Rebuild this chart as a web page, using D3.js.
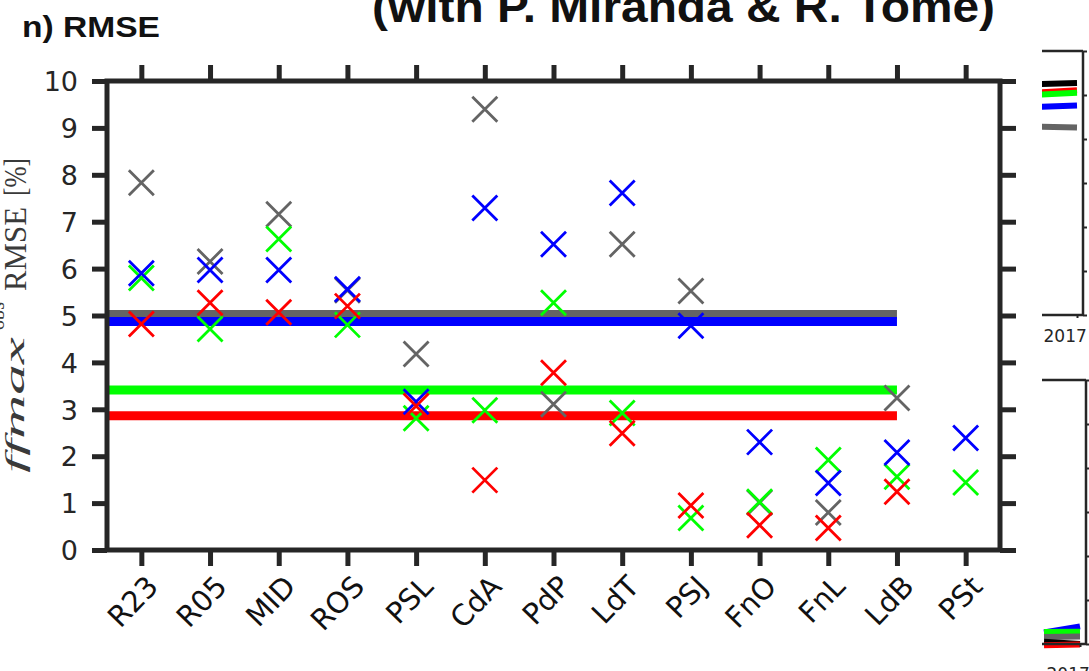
<!DOCTYPE html>
<html>
<head>
<meta charset="utf-8">
<script src="https://cdn.jsdelivr.net/npm/d3@7"></script>
<style>
  html, body { margin: 0; padding: 0; background: #ffffff; }
  svg { display: block; }
</style>
</head>
<body>
<script>
// ---------------- data ----------------
const categories = ["R23","R05","MID","ROS","PSL","CdA","PdP","LdT","PSJ","FnO","FnL","LdB","PSt"];
const yTicks = [0,1,2,3,4,5,6,7,8,9,10];

const grayVals  = [7.83, 6.15, 7.16, 5.54, 4.18, 9.40, 3.11, 6.52, 5.52, 1.01, 0.80, 3.24, null];
const greenVals = [5.80, 4.71, 6.63, 4.80, 2.81, 2.98, 5.27, 2.92, 0.68, 1.03, 1.92, 1.56, 1.44];
const blueVals  = [5.90, 5.97, 5.97, 5.56, 3.16, 7.29, 6.52, 7.61, 4.78, 2.30, 1.43, 2.08, 2.39];
const redVals   = [4.82, 5.27, 5.07, 5.20, 3.07, 1.49, 3.78, 2.49, 0.95, 0.53, 0.47, 1.24, null];

const seriesNames  = ["gray","green","blue","red"];
const seriesColors = ["#646464","#00ff00","#0000ff","#ff0000"];

// mean lines (span from left edge to LdB)
const meanNames  = ["gray","blue","green","red"];
const meanValues = [5.02, 4.87, 3.41, 2.86];
const meanColors = ["#646464","#0000ff","#00ff00","#ff0000"];
const meanSpan   = [0.5, 12];

// partial neighbouring panels (right edge)
const insetYears = [2016.75, 2017];
const insetTicks = [0,1,2,3,4,5,6];
const insetTopNames  = ["black","red","green","blue","gray"];
const insetTopColors = ["#000000","#ff0000","#00ff00","#0000ff","#646464"];
const insetTopVals   = [[5.25,5.27],[5.06,5.11],[5.01,5.05],[4.73,4.76],[4.28,4.26]];
const insetBotNames  = ["blue","green","gray","black","red"];
const insetBotColors = ["#0000ff","#00ff00","#646464","#000000","#ff0000"];
const insetBotVals   = [[0.26,0.40],[0.27,0.28],[0.16,0.17],[0.05,0.0],[-0.03,-0.01]];

// ---------------- layout ----------------
const W = 1089, H = 671;
const axisColor = "#262626";
const svg = d3.select("body").append("svg").attr("width", W).attr("height", H);

const x = d3.scaleLinear().domain([0.5, 13.5]).range([107, 1000]);
const y = d3.scaleLinear().domain([0, 10]).range([550, 81]);

// mean lines
svg.append("g").selectAll("line").data(meanValues).join("line")
  .attr("x1", x(meanSpan[0])).attr("x2", x(meanSpan[1]))
  .attr("y1", d => y(d)).attr("y2", d => y(d))
  .attr("stroke", (d,i) => meanColors[i]).attr("stroke-width", 9);

// markers
const allSeries = [grayVals, greenVals, blueVals, redVals];
const ms = 12.5;
allSeries.forEach((vals, si) => {
  const pts = vals.map((v,i) => ({v, i})).filter(d => d.v !== null);
  svg.append("g").selectAll("path").data(pts).join("path")
    .attr("d", d => {
      const cx = x(d.i + 1), cy = y(d.v);
      return `M${cx-ms},${cy-ms}L${cx+ms},${cy+ms}M${cx-ms},${cy+ms}L${cx+ms},${cy-ms}`;
    })
    .attr("fill", "none")
    .attr("stroke", seriesColors[si])
    .attr("stroke-width", 2.8);
});

// frame
const frame = svg.append("g").attr("stroke", axisColor).attr("stroke-width", 5).attr("fill","none");
frame.append("rect").attr("x", x(0.5)).attr("y", y(10)).attr("width", x(13.5)-x(0.5)).attr("height", y(0)-y(10));

// axes ticks
const yAxisL = d3.axisLeft(y).tickValues(yTicks).tickSize(15).tickPadding(14).tickFormat(d3.format("d"));
const gL = svg.append("g").attr("transform", `translate(${x(0.5)},0)`).call(yAxisL);
const yAxisR = d3.axisRight(y).tickValues(yTicks).tickSize(16).tickFormat("");
const gR = svg.append("g").attr("transform", `translate(${x(13.5)},0)`).call(yAxisR);
const catIdx = categories.map((c,i) => i+1);
const xAxisB = d3.axisBottom(x).tickValues(catIdx).tickSize(16).tickFormat((d) => categories[d-1]);
const gB = svg.append("g").attr("transform", `translate(0,${y(0)})`).call(xAxisB);
const xAxisT = d3.axisTop(x).tickValues(catIdx).tickSize(16).tickFormat("");
const gT = svg.append("g").attr("transform", `translate(0,${y(10)})`).call(xAxisT);

[gL,gR,gB,gT].forEach(g => {
  g.select(".domain").remove();
  g.selectAll(".tick line").attr("stroke", axisColor).attr("stroke-width", 5);
});
gL.selectAll(".tick text")
  .attr("font-family", "DejaVu Sans").attr("font-size", 27).attr("fill", axisColor)
  .attr("dy", "0.36em");
gB.selectAll(".tick text")
  .attr("font-family", "DejaVu Sans").attr("font-size", 29).attr("fill", "#111")
  .attr("text-anchor", "end")
  .attr("y", 0).attr("dy", 0)
  .attr("transform", "translate(18,38) rotate(-46)");

// titles
svg.append("text").attr("x", 22).attr("y", 37)
  .attr("font-family", "Liberation Sans Narrow, Liberation Sans, Arial").attr("font-weight", "bold")
  .attr("font-size", 30).attr("textLength", 138).attr("lengthAdjust", "spacingAndGlyphs")
  .attr("fill", "#111").text("n) RMSE");
svg.append("text").attr("x", 372).attr("y", 22)
  .attr("font-family", "Liberation Sans Narrow, Liberation Sans, Arial").attr("font-weight", "bold")
  .attr("font-size", 45).attr("textLength", 623).attr("lengthAdjust", "spacingAndGlyphs")
  .attr("fill", "#111").text("(with P. Miranda & R. Tome)");

// y label (rotated, LaTeX-like)
const yl = svg.append("g").attr("fill", "#3a3a3a").attr("font-family", "Liberation Serif, DejaVu Serif, serif");
yl.append("text").attr("transform", "translate(24,473) rotate(-90)")
  .attr("font-style", "italic").attr("font-size", 28)
  .attr("textLength", 136).attr("lengthAdjust", "spacingAndGlyphs").text("ffmax");
yl.append("text").attr("transform", "translate(4,330) rotate(-90)")
  .attr("font-size", 20).attr("textLength", 28).attr("lengthAdjust", "spacingAndGlyphs").text("obs");
yl.append("text").attr("transform", "translate(26,291) rotate(-90)")
  .attr("font-size", 31).attr("textLength", 84).attr("lengthAdjust", "spacingAndGlyphs").text("RMSE");
yl.append("text").attr("transform", "translate(26,196) rotate(-90)")
  .attr("font-size", 31).attr("textLength", 38).attr("lengthAdjust", "spacingAndGlyphs").text("[%]");

// ---------------- partial neighbouring panels ----------------
const clip = svg.append("defs").append("clipPath").attr("id", "insetClip");
clip.append("rect").attr("x", 1042).attr("y", 0).attr("width", 60).attr("height", H);

function inset(top, bottom, axisX, names, colors, vals, labelY) {
  const g = svg.append("g").attr("clip-path", "url(#insetClip)");
  const xs = d3.scaleLinear().domain([2016.75, 2017]).range([axisX - 42, axisX - 6]);
  const ys = d3.scaleLinear().domain([0, 6]).range([bottom, top]);
  vals.forEach((v, i) => {
    g.append("path")
      .attr("d", d3.line().x((d,j) => xs(insetYears[j])).y(d => ys(d))(v))
      .attr("stroke", colors[i]).attr("stroke-width", 6).attr("fill", "none");
  });
  g.append("line").attr("x1", 1030).attr("x2", axisX).attr("y1", top).attr("y2", top)
    .attr("stroke", axisColor).attr("stroke-width", 2.5);
  g.append("line").attr("x1", 1030).attr("x2", axisX).attr("y1", bottom).attr("y2", bottom)
    .attr("stroke", axisColor).attr("stroke-width", 2.5);
  g.append("line").attr("x1", axisX).attr("x2", axisX).attr("y1", top).attr("y2", bottom)
    .attr("stroke", axisColor).attr("stroke-width", 2.5);
  const ya = d3.axisRight(ys).tickValues(insetTicks).tickSize(4).tickFormat("");
  const ga = g.append("g").attr("transform", `translate(${axisX},0)`).call(ya);
  ga.select(".domain").remove();
  ga.selectAll(".tick line").attr("stroke", axisColor).attr("stroke-width", 2);
  const xa = d3.axisBottom(xs).tickValues([2017]).tickSize(3).tickFormat(d3.format("d"));
  const gx = g.append("g").attr("transform", `translate(0,${bottom})`).call(xa);
  gx.select(".domain").remove();
  gx.selectAll(".tick line").attr("stroke", axisColor).attr("stroke-width", 2);
  gx.selectAll(".tick text").attr("font-family", "DejaVu Sans").attr("font-size", 17)
    .attr("fill", axisColor).attr("text-anchor", "start").attr("x", -34)
    .attr("y", labelY - bottom).attr("dy", 0);
}
inset(51, 315, 1083, insetTopNames, insetTopColors, insetTopVals, 342);
inset(380, 644, 1086, insetBotNames, insetBotColors, insetBotVals, 680);
</script>
</body>
</html>
